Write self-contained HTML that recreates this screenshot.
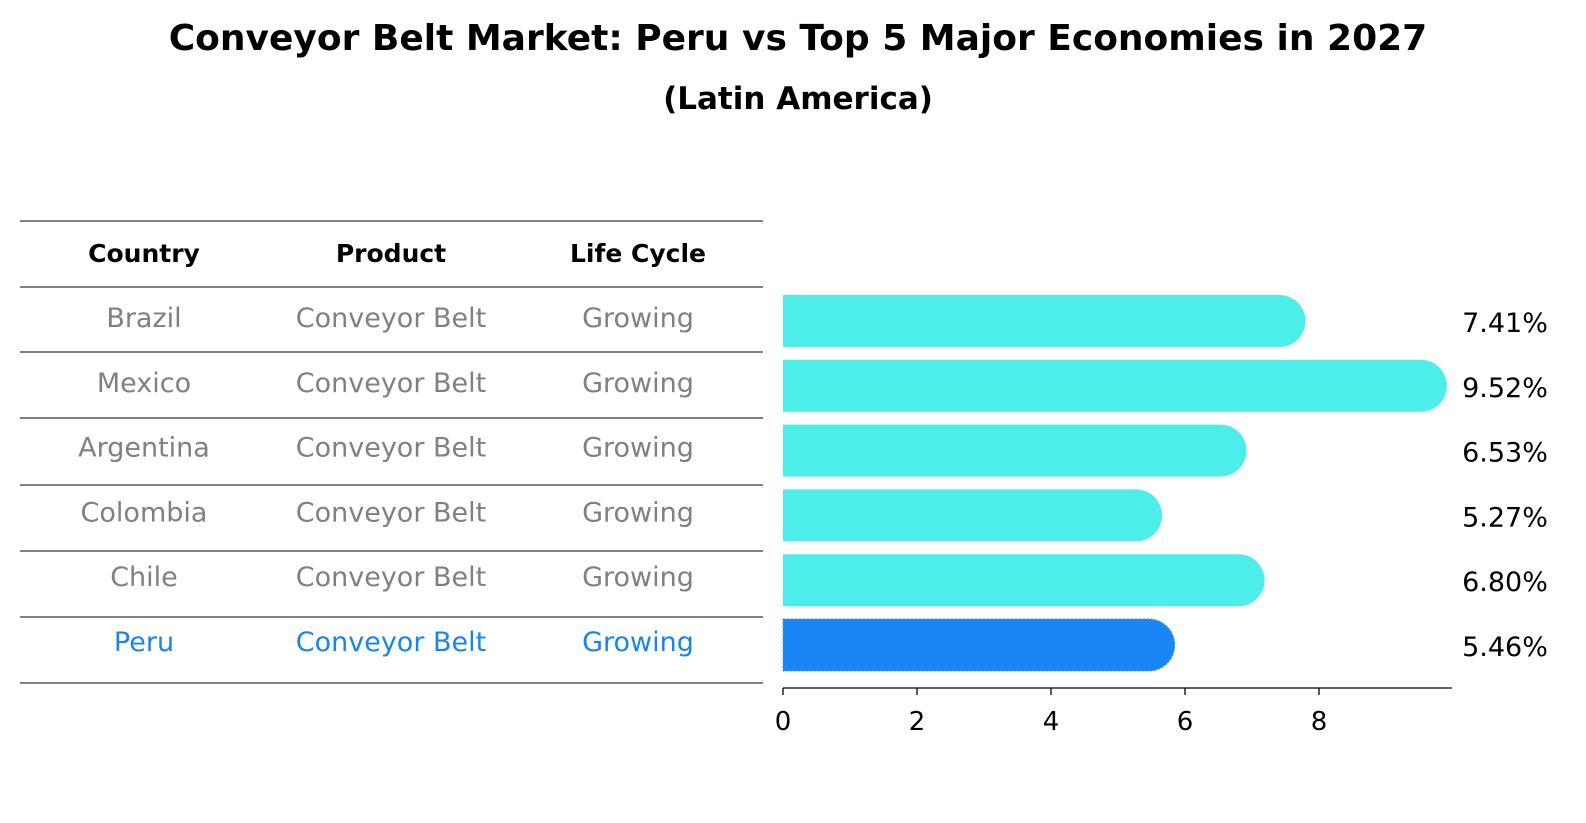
<!DOCTYPE html>
<html><head><meta charset="utf-8"><style>
html,body{margin:0;padding:0;background:#fff;overflow:hidden;width:1586px;height:823px;}
svg{display:block;}
svg text{font-family:"DejaVu Sans","Liberation Sans",sans-serif;}
</style></head><body>
<svg id="c" width="1586" height="823" xmlns="http://www.w3.org/2000/svg">
<text x="798" y="50" text-anchor="middle" font-size="36" font-weight="bold">Conveyor Belt Market: Peru vs Top 5 Major Economies in 2027</text>
<text x="798" y="109" text-anchor="middle" font-size="31" font-weight="bold">(Latin America)</text>
<g id="table"></g>
<g id="bars"></g>
</svg>
<script>
const countries=["Brazil","Mexico","Argentina","Colombia","Chile","Peru"];
const products=["Conveyor Belt","Conveyor Belt","Conveyor Belt","Conveyor Belt","Conveyor Belt","Conveyor Belt"];
const lifeCycles=["Growing","Growing","Growing","Growing","Growing","Growing"];
const values=[7.41,9.52,6.53,5.27,6.80,5.46];
const valueLabels=["7.41%","9.52%","6.53%","5.27%","6.80%","5.46%"];
const xTicks=[0,2,4,6,8];
const NS="http://www.w3.org/2000/svg";
function mk(t,a,p){const e=document.createElementNS(NS,t);for(const k in a)e.setAttribute(k,a[k]);p.appendChild(e);return e;}
const x0=783,pxPerUnit=67;
const xs=v=>x0+v*pxPerUnit;
const rowY=i=>321+i*64.8;
const tbl=document.getElementById('table'),bars=document.getElementById('bars');
const lineYs=[221,287,352,418,485,551,617,683];
lineYs.forEach(y=>{const l=mk('line',{x1:20,x2:763,y1:y,y2:y,stroke:'#000','stroke-width':1},tbl);

});
const cols=[144,391,638];
["Country","Product","Life Cycle"].forEach((h,j)=>{const t=mk('text',{x:cols[j],y:262,'text-anchor':'middle','font-size':25,'font-weight':'bold'},tbl);t.textContent=h;

});
countries.forEach((c,i)=>{
 const col=i===countries.length-1?'#1a85e8':'#808080';
 [c,products[i],lifeCycles[i]].forEach((s,j)=>{
  const t=mk('text',{x:cols[j],y:rowY(i)+6,'text-anchor':'middle','font-size':27,fill:col},tbl);t.textContent=s;
  
  
 });
 const h=52,r=26,yc=rowY(i),xe=xs(values[i]);
 const fill=i===countries.length-1?'#1a85f5':'#4deee9';
 const p=mk('path',{d:`M${x0},${yc-h/2} L${xe},${yc-h/2} A${r},${r} 0 0 1 ${xe},${yc+h/2} L${x0},${yc+h/2} Z`,fill:fill},bars);
 if(i===countries.length-1){p.setAttribute('stroke','#4a90e0');p.setAttribute('stroke-dasharray','2,2');}
 
 
 const t=mk('text',{x:1505,y:yc+11,'text-anchor':'middle','font-size':27},bars);t.textContent=valueLabels[i];
 
 
});
const ax=mk('line',{x1:x0,x2:1452,y1:688,y2:688,stroke:'#000','stroke-width':1.3},bars);


xTicks.forEach(v=>{const l=mk('line',{x1:xs(v),x2:xs(v),y1:688,y2:695,stroke:'#000','stroke-width':1.3},bars);


const t=mk('text',{x:xs(v),y:730,'text-anchor':'middle','font-size':26},bars);t.textContent=v;

});
</script>
</body></html>
